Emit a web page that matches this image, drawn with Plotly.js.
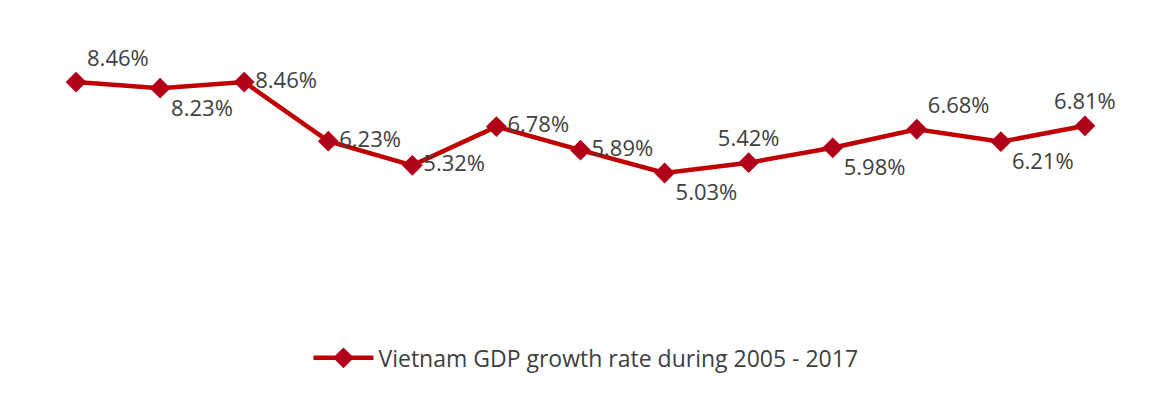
<!DOCTYPE html>
<html>
<head>
<meta charset="utf-8">
<script src="https://cdn.plot.ly/plotly-3.0.1.min.js"></script>
<style>html,body{margin:0;padding:0;background:#fff;}#chart{width:1151px;height:403px;}</style>
</head>
<body>
<div id="chart"></div>
<script>
const years = [2005, 2006, 2007, 2008, 2009, 2010, 2011, 2012, 2013, 2014, 2015, 2016, 2017];
const growth = [8.46, 8.23, 8.46, 6.23, 5.32, 6.78, 5.89, 5.03, 5.42, 5.98, 6.68, 6.21, 6.81];
const labels = ["8.46%", "8.23%", "8.46%", "6.23%", "5.32%", "6.78%", "5.89%", "5.03%", "5.42%", "5.98%", "6.68%", "6.21%", "6.81%"];
const labelPos = ["top right", "bottom right", "middle right", "middle right", "middle right", "middle right", "middle right", "bottom right", "top center", "bottom right", "top right", "bottom right", "top center"];
const seriesName = "Vietnam GDP growth rate during 2005 - 2017";

const trace = {
  x: years, y: growth, type: 'scatter', mode: 'lines+markers+text',
  name: seriesName,
  text: labels, textposition: labelPos,
  textfont: {family: '"Open Sans", sans-serif', size: 22, color: '#404040'},
  line: {color: '#c00000', width: 4.5},
  marker: {symbol: 'diamond', size: 16, color: '#b0001a', line: {color: '#b0001a', width: 0}},
  cliponaxis: false
};
const layout = {
  width: 1151, height: 403,
  margin: {l: 34, r: 24, t: 20, b: 103},
  paper_bgcolor: '#ffffff', plot_bgcolor: '#ffffff',
  xaxis: {range: [2004.5, 2017.5], visible: false, showgrid: false, zeroline: false},
  yaxis: {range: [0.24, 10.8], visible: false, showgrid: false, zeroline: false},
  showlegend: true,
  legend: {orientation: 'h', x: 0.505, xanchor: 'center', y: -0.13, yanchor: 'top',
    font: {family: '"Open Sans", sans-serif', size: 23, color: '#404040'},
    itemwidth: 60, bgcolor: 'rgba(0,0,0,0)'},
  font: {family: '"Open Sans", sans-serif'}
};
Plotly.newPlot('chart', [trace], layout, {displayModeBar: false, staticPlot: true});
</script>
</body>
</html>
